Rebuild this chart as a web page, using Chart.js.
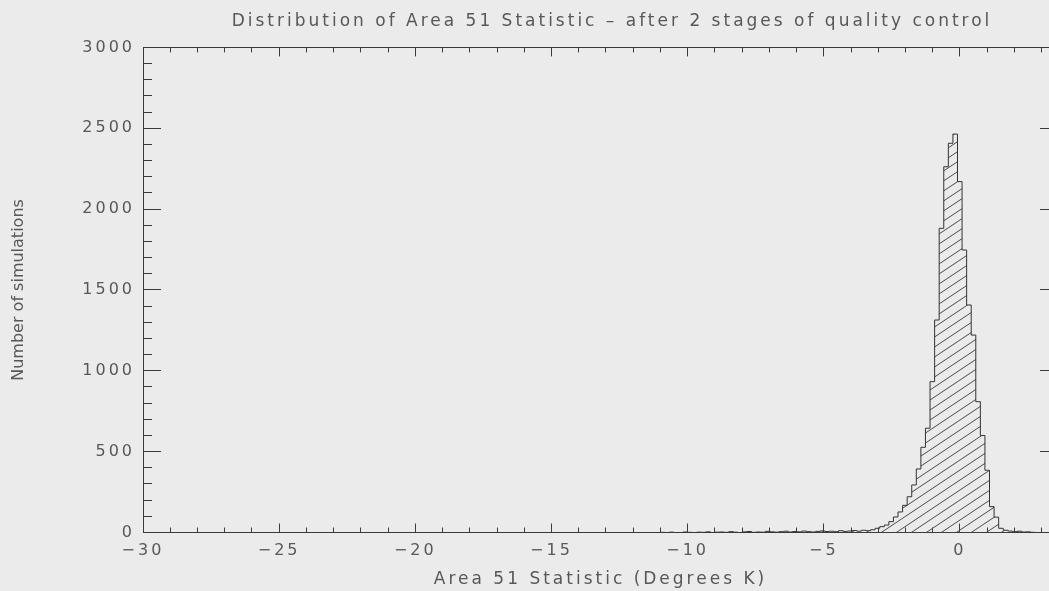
<!DOCTYPE html>
<html>
<head>
<meta charset="utf-8">
<title>Distribution of Area 51 Statistic</title>
<script src="https://cdn.jsdelivr.net/npm/chart.js@4/dist/chart.umd.min.js"></script>
<style>
  html, body { margin: 0; padding: 0; overflow: hidden; background: #ebebeb; }
  canvas { display: block; }
</style>
</head>
<body>
<canvas id="hist" width="1224" height="591"></canvas>
<script>
// ---- data ---------------------------------------------------------------
const chartTitle = 'Distribution of Area 51 Statistic \u2013 after 2 stages of quality control';
const xAxisTitle = 'Area 51 Statistic (Degrees K)';
const yAxisTitle = 'Number of simulations';

const xTickLabels = ['\u221230', '\u221225', '\u221220', '\u221215', '\u221210', '\u22125', '0'];
const yTickLabels = ['0', '500', '1000', '1500', '2000', '2500', '3000'];

const xRange = [-30, 3.6];
const yRange = [0, 3000];

// histogram bins: left edge of the first bin and the common bin width (degrees K)
const firstBinEdge = -11.179;
const binWidth = 0.168;

// simulations per bin, left to right
const binCounts = [
  0, 1, 0, 2, 0, 0, 3, 1, 0, 2, 1, 4, 0, 2, 3, 1, 5, 2, 0, 4, 6, 1, 3, 2,
  7, 4, 2, 5, 8, 3, 6, 4, 9, 5, 3, 7, 10, 6, 8, 5, 11, 7, 9, 12, 8, 14, 11, 17,
  26, 36, 46, 67, 96, 127, 168, 221, 294, 393, 527, 645, 933, 1314, 1881, 2262, 2407, 2464,
  2170, 1747, 1407, 1221, 809, 600, 385, 160, 95, 26, 14, 9, 5, 8, 3, 4, 1
];

// ---- styling -------------------------------------------------------------
const axisColor = '#3b3b3b';
const textColor = '#585858';
const lineColor = '#333333';
const hatchColor = '#4a4a4a';
const family = '"DejaVu Sans", sans-serif';

// step outline: each point opens a bin, the last one closes the final bin
const histPoints = binCounts.map((c, i) => ({ x: firstBinEdge + i * binWidth, y: c }));
histPoints.push({ x: firstBinEdge + binCounts.length * binWidth, y: 0 });

// diagonal line fill for the histogram body
function makeHatch() {
  const w = 15, h = 10;
  const tile = document.createElement('canvas');
  tile.width = w; tile.height = h;
  const g = tile.getContext('2d');
  g.strokeStyle = hatchColor;
  g.lineWidth = 1;
  g.beginPath();
  for (const dx of [-w, 0, w]) {
    g.moveTo(dx - w, 2 * h);
    g.lineTo(dx + 2 * w, -h);
  }
  g.stroke();
  return g.createPattern(tile, 'repeat');
}

// horizontal text is drawn spaced out; the rotated y caption is drawn after the datasets without spacing
const textSpacing = {
  id: 'textSpacing',
  beforeDraw(chart) { chart.ctx.letterSpacing = '3px'; },
  afterDatasetsDraw(chart) { chart.ctx.letterSpacing = '0px'; }
};

// tick-only frame axis (ticks point into the plot)
function frameAxis(axis, position, step, len, weight, size, border) {
  const range = axis === 'x' ? xRange : yRange;
  return {
    type: 'linear', axis, position, weight,
    min: range[0], max: range[1],
    grid: { display: true, drawOnChartArea: false, drawTicks: true, tickLength: -len, color: axisColor, lineWidth: 1 },
    border: { display: border, color: axisColor, width: 1 },
    ticks: { display: false, stepSize: step, includeBounds: false, autoSkip: false },
    afterFit(s) { if (axis === 'x') s.height = size; else s.width = size; }
  };
}

new Chart(document.getElementById('hist'), {
  type: 'line',
  data: {
    datasets: [{
      data: histPoints,
      stepped: 'before',
      borderColor: lineColor,
      borderWidth: 1,
      backgroundColor: makeHatch(),
      fill: 'origin',
      pointRadius: 0,
      tension: 0,
      xAxisID: 'x',
      yAxisID: 'y'
    }]
  },
  options: {
    responsive: false,
    animation: false,
    events: [],
    layout: { padding: 0 },
    plugins: {
      legend: { display: false },
      tooltip: { enabled: false },
      title: {
        display: true,
        text: chartTitle,
        color: textColor,
        font: { family, size: 17, weight: 'normal', lineHeight: 1.2 },
        padding: { top: 11, bottom: 16 }
      }
    },
    scales: {
      x: {
        type: 'linear', position: 'bottom', weight: 1,
        min: xRange[0], max: xRange[1],
        grid: { display: true, drawOnChartArea: false, drawTicks: true, tickLength: -9, color: axisColor, lineWidth: 1 },
        border: { display: true, color: axisColor, width: 1 },
        ticks: {
          stepSize: 5, includeBounds: false, autoSkip: false, maxRotation: 0,
          padding: 18, color: textColor,
          font: { family, size: 16, lineHeight: 1.2 },
          callback: (v, i) => xTickLabels[i]
        },
        title: {
          display: true, text: xAxisTitle, color: textColor,
          font: { family, size: 17, lineHeight: 1.2 },
          padding: { top: 0, bottom: 1 }
        },
        afterFit(s) { s.height = 58.5; }
      },
      xMinor: frameAxis('x', 'bottom', 1, 5, 0, 0, false),
      xTop: frameAxis('x', 'top', 5, 9, 1, 0, true),
      xTopMinor: frameAxis('x', 'top', 1, 5, 0, 0, false),
      y: {
        type: 'linear', position: 'left', weight: 1,
        min: yRange[0], max: yRange[1],
        grid: { display: true, drawOnChartArea: false, drawTicks: true, tickLength: -18, color: axisColor, lineWidth: 1 },
        border: { display: true, color: axisColor, width: 1 },
        ticks: {
          stepSize: 500, includeBounds: false, autoSkip: false,
          padding: 26, color: textColor,
          font: { family, size: 16, lineHeight: 1.2 },
          callback: (v, i) => yTickLabels[i]
        },
        afterFit(s) { s.width = 113; }
      },
      yMinor: frameAxis('y', 'left', 100, 9, 0, 0, false),
      yTitle: {
        type: 'linear', position: 'left', weight: 2,
        min: yRange[0], max: yRange[1],
        grid: { display: false, z: 1 },
        border: { display: false },
        ticks: { display: false },
        title: {
          display: true, text: yAxisTitle, color: textColor,
          font: { family, size: 16, lineHeight: 1.2 },
          padding: { top: 9.5, bottom: 0 }
        },
        afterFit(s) { s.width = 30; }
      },
      yRight: frameAxis('y', 'right', 500, 18, 1, 166, true),
      yRightMinor: frameAxis('y', 'right', 100, 9, 0, 0, false)
    }
  },
  plugins: [textSpacing]
});
</script>
</body>
</html>
